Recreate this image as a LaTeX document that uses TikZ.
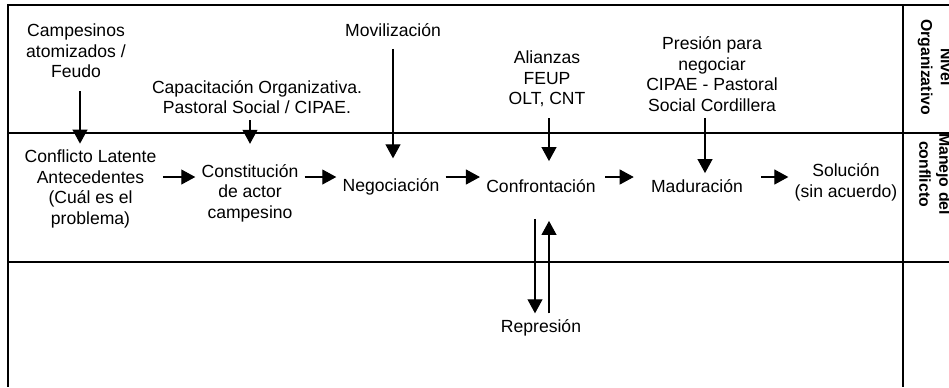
\documentclass[tikz,border=0pt]{standalone}
\usepackage{fontspec}
\setmainfont{Liberation Sans}
\usetikzlibrary{calc, arrows.meta}
\tikzstyle{txt}=[align=center, font=\fontsize{10}{11.7}\selectfont]
\tikzstyle{lbl}=[align=center, rotate=-90, font=\fontsize{9}{11.3}\selectfont\bfseries]

\begin{document}
\begin{tikzpicture}[x=0.02cm,y=-0.02cm,>={Triangle[length=0.28cm,width=0.3cm]},line width=0.6pt]
  \useasboundingbox (0,0) rectangle (949,387);
  \clip (0,0) rectangle (949,387);
  % frame and rows
  \draw (949,5) -- (8,5) -- (8,387);
  \draw (8,133) -- (949,133);
  \draw (8,262) -- (949,262);
  \draw (903,5) -- (903,387);
  \node [lbl] (n1) at (935,67) {Nivel\\Organizativo};
  \node [lbl] (n2) at (935,174) {Manejo del\\conflicto};
  % organizational level
  \node [txt] (p) at (76,51) {Campesinos\\atomizados /\\Feudo};
  \node [txt] (q) at (257,97) {Capacitación Organizativa.\\Pastoral Social / CIPAE.};
  \node [txt] (s) at (393,30) {Movilización};
  \node [txt] (t) at (547,79) {Alianzas\\FEUP\\OLT, CNT};
  \node [txt] (u) at (712,74) {Presión para\\negociar\\CIPAE - Pastoral\\Social Cordillera};
  % conflict handling
  \node [txt] (b) at (90.5,189) {Conflicto Latente\\Antecedentes\\(Cuál es el\\problema)};
  \node [txt] (c) at (250,193) {Constitución\\de actor\\campesino};
  \node [txt] (d) at (391,187) {Negociación};
  \node [txt] (e) at (541,186) {Confrontación};
  \node [txt] (f) at (697,186) {Maduración};
  \node [txt] (g) at (846,182.5) {Solución\\(sin acuerdo)};
  \node [txt] (h) [below of=e, node distance=2.84cm] {Represión};
  \coordinate (r) at (0,177);
  \path[->] (b.east |- r) edge (c.west |- r);
  \path[->] (c.east |- r) edge (d.west |- r);
  \path[->] (d.east |- r) edge (e.west |- r);
  \path[->] (e.east |- r) edge[shorten <=0.06cm, shorten >=0.22cm] (f.west |- r);
  \path[->] (f.east |- r) edge[shorten <=0.24cm] (g.west |- r);
  % downward influences
  \path[->] ([xshift=0.08cm]p.south) edge[shorten <=0.14cm] ([xshift=0.08cm]p.south |- b.north);
  \path[->] ([xshift=-0.14cm]q.south) edge[shorten >=0.28cm] ([xshift=-0.14cm]q.south |- c.north);
  \path[->] (s.south) edge[shorten <=0.12cm, shorten >=0.28cm] (s.south |- d.north);
  \path[->] ([xshift=0.04cm]t.south) edge[shorten <=0.1cm, shorten >=0.24cm] ([xshift=0.04cm]t.south |- e.north);
  \path[->] ([xshift=-0.14cm]u.south) edge ([xshift=-0.14cm]u.south |- f.north);
  % repression
  \path[->] ([xshift=-0.12cm]e.south) edge[shorten <=0.4cm] ([xshift=-0.12cm]e.south |- h.north);
  \path[->] ([xshift=0.16cm]e.south |- h.north) edge[shorten >=0.44cm] ([xshift=0.16cm]e.south);
\end{tikzpicture}
\end{document}
